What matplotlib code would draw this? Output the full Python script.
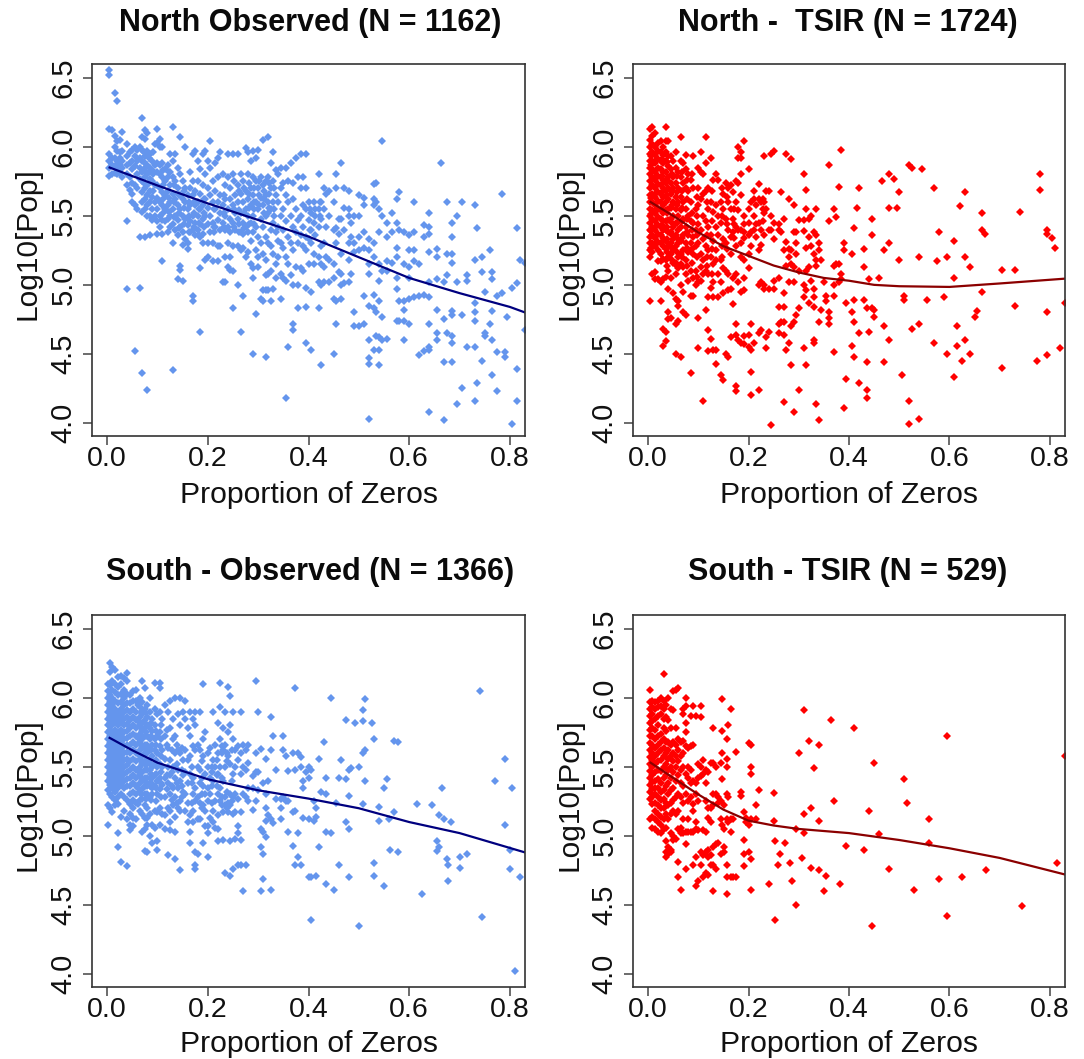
import matplotlib
matplotlib.use("Agg")
import matplotlib.pyplot as plt

# points are stored as columns: (proportion of zeros, [log10 pop values])
north_obs_cols = [
    (.003, [6.56,6.52,6.13,5.95,5.9,5.85,5.79]), (.01, [6.12,5.92,5.87,5.8]), (.015, [6.39,6.08,6.0,5.92,5.86,5.81]),
    (.02, [6.33,6.04,5.97,5.9,5.84,5.8]), (.025, [6.05,5.96,5.92,5.87,5.81]), (.03, [6.11,5.97,5.9,5.85,5.78]),
    (.04, [6.02,5.93,5.87,5.8,5.72,5.46,4.97]), (.045, [5.96,5.88,5.78,5.69]), (.05, [5.98,5.9,5.84,5.74,5.66,5.6]),
    (.055, [6.0,5.93,5.86,5.72,5.58,4.52]), (.06, [5.98,5.9,5.8,5.7,5.55]), (.065, [6.0,5.92,5.85,5.77,5.35,4.98]),
    (.07, [6.21,6.07,5.98,5.9,5.82,5.75,5.67,5.6,5.53,4.36]), (.075, [6.12,6.06,5.93,5.85,5.78,5.7,5.62,5.55,5.35]),
    (.08, [6.1,5.97,5.87,5.8,5.72,5.65,5.58,5.5,4.24]), (.085, [5.95,5.85,5.77,5.68,5.6,5.5,5.36]),
    (.09, [5.9,5.83,5.75,5.64,5.55,5.47]), (.095, [6.02,5.87,5.72,5.6,5.5]),
    (.10, [6.13,6.03,5.88,5.82,5.72,5.63,5.55,5.46,5.37]), (.105, [6.06,6.0,5.87,5.8,5.7,5.6,5.5,5.42]),
    (.11, [6.0,5.88,5.78,5.67,5.58,5.47,5.37,5.17]), (.115, [5.84,5.75,5.65,5.55,5.46]), (.12, [5.87,5.78,5.68,5.58,5.48,5.38]),
    (.125, [5.95,5.82,5.72,5.6,5.5,5.42]), (.13, [6.14,5.9,5.78,5.66,5.55,5.44,5.3,4.38]), (.135, [5.95,5.75,5.62,5.5,5.4]),
    (.14, [5.85,5.7,5.58,5.47,5.36,5.04]), (.145, [6.07,5.8,5.65,5.55,5.42,5.14,5.11]), (.15, [5.75,5.62,5.5,5.38,5.29,5.03]),
    (.155, [6.0,5.7,5.6,5.48,5.33]), (.16, [5.65,5.55,5.43,5.3,5.26]), (.165, [5.82,5.7,5.58,5.46,5.38]),
    (.17, [5.95,5.75,5.65,5.5,5.4,4.92,4.88]), (.175, [5.97,5.68,5.58,5.45,5.36]), (.18, [5.9,5.75,5.6,5.5,5.4]),
    (.185, [5.84,5.66,5.55,5.44,5.35,5.12,4.66]), (.19, [5.95,5.72,5.58,5.48,5.37,5.3]), (.195, [5.97,5.8,5.62,5.5,5.18]),
    (.20, [5.9,5.7,5.56,5.44,5.3,5.2]), (.205, [6.04,5.85,5.65,5.5,5.38]), (.21, [5.75,5.6,5.45,5.3,5.17]),
    (.215, [5.88,5.68,5.55,5.42]), (.22, [5.92,5.78,5.6,5.47,5.28,5.17]), (.225, [5.96,5.65,5.52,5.4,5.28]),
    (.23, [5.8,5.58,5.45,5.02]), (.235, [5.72,5.62,5.5,5.4,5.2,5.02]), (.24, [5.95,5.78,5.55,5.42,5.3,5.13]),
    (.245, [5.7,5.62,5.48,5.38,5.2,5.11]), (.25, [5.95,5.8,5.58,5.45,5.28,5.1,4.83]), (.255, [5.65,5.52,5.4]),
    (.26, [5.95,5.72,5.6,5.48,5.28,5.0]), (.265, [5.8,5.66,5.52,5.38,5.25,4.66]), (.27, [5.75,5.6,5.45,5.37,5.27,4.92]),
    (.275, [5.99,5.68,5.55,5.42,5.2]), (.28, [5.96,5.8,5.62,5.5,5.38,5.24]), (.285, [5.9,5.7,5.58,5.45,5.32,5.15]),
    (.29, [5.97,5.78,5.65,5.5,5.38,5.12,5.05,4.5]), (.295, [5.92,5.75,5.6,5.42,5.25,4.79]), (.30, [5.98,5.7,5.55,5.35,5.2,5.13]),
    (.305, [5.78,5.63,5.48,5.3,4.9]), (.31, [6.05,5.72,5.58,5.42,5.22,4.96,4.88]), (.315, [5.75,5.65,5.5,5.35,5.18,5.07,4.96,4.48]),
    (.32, [6.07,5.78,5.6,5.52,5.3,5.08,4.96]), (.325, [5.88,5.7,5.55,5.4,5.28,5.1,4.88]), (.33, [5.96,5.75,5.6,5.45,5.22,4.97]),
    (.335, [5.83,5.65,5.38,5.15,5.05]), (.34, [5.8,5.6,5.42,5.32,5.2]), (.345, [5.85,5.7,5.5,5.3,5.08,4.9]),
    (.35, [5.74,5.55,5.4,5.27,5.05]), (.355, [5.85,5.65,5.46,5.2,5.03,4.18]), (.36, [5.75,5.6,5.35,5.15,4.55]),
    (.365, [5.88,5.5,5.3,5.07]), (.37, [5.74,5.62,5.42,5.25,5.0,4.72,4.67]), (.375, [5.92,5.55,5.38,5.13]),
    (.38, [5.78,5.47,5.3,5.0,4.83]), (.385, [5.95,5.7,5.5,5.36,5.12]), (.39, [5.78,5.58,5.42,5.28,5.1]),
    (.395, [5.95,5.7,5.55,5.35,5.25,4.98,4.84,4.58]), (.40, [5.6,5.47,5.33,5.15]), (.405, [5.52,5.4,5.3,4.95,4.53]),
    (.41, [5.6,5.45,5.22,5.15]), (.42, [5.8,5.55,5.42,5.2,5.02,4.83]), (.425, [5.6,5.48,5.28,5.15,5.0,4.42]),
    (.43, [5.7,5.55,5.3,5.13,5.02]), (.435, [5.66,5.42,5.2]), (.44, [5.68,5.5,5.18,5.02]), (.45, [5.6,5.4,5.15,5.05,4.9,4.5]),
    (.455, [5.8,5.7,5.41,5.3,4.88,4.72]), (.46, [5.48,5.37,5.09]), (.465, [5.88,5.48,5.22,5.08,5.0,4.9]), (.47, [5.7,5.56,5.4,5.01]),
    (.48, [5.68,5.55,5.5,5.3,5.18,5.02]), (.485, [5.45,5.35,5.08]), (.49, [5.5,5.3,5.24,4.8,4.7]), (.50, [5.65,5.5,5.35,5.25,4.7]),
    (.51, [5.63,5.58,5.38,5.27,4.92,4.72]), (.52, [5.33,5.25,5.15,5.08,4.85,4.6,4.47,4.43,4.03]),
    (.53, [5.73,5.62,5.58,5.3,5.2,4.93,4.83,4.53]), (.535, [5.74,5.6,4.8,4.63]), (.54, [5.55,5.38,5.15,5.03,4.88,4.62,4.53,4.42]),
    (.545, [6.04,5.5,5.1,4.77,4.6]), (.555, [5.45,5.35,5.17,5.1,4.61]), (.565, [5.52,5.38,5.16]),
    (.575, [5.62,5.45,5.27,5.2,5.05,4.97,4.74]), (.58, [5.67,5.4,4.88,4.74]), (.59, [5.38,5.15,4.88,4.82,4.74,4.6]),
    (.60, [5.36,5.25,5.13,5.05,4.9,4.72]), (.61, [5.6,5.38,5.25,5.17,4.91]), (.62, [5.15,4.92,4.49]), (.63, [5.43,5.35,4.93,4.52]),
    (.64, [5.52,5.42,5.37,5.24,5.02,4.91,4.72,4.55,4.53,4.08]), (.655, [5.26,5.2,5.04,4.82,4.65,4.6]), (.664, [5.88]),
    (.67, [5.02,4.75,4.44,4.02]), (.675, [5.6,5.22,5.07,4.65]), (.685, [5.45,5.35,5.22,5.16,4.81,4.78,4.63,4.58,4.44]),
    (.695, [5.5,5.02,4.14]), (.705, [5.6,4.78,4.25]), (.715, [5.07,5.03,4.55]), (.73, [5.58,5.18,4.87,4.8,4.74,4.55,4.16]),
    (.735, [5.41,4.29]), (.745, [5.2,5.09,4.45]), (.75, [4.95,4.63,4.65]), (.76, [5.25,4.72]), (.765, [5.09,5.04,4.81,4.6,4.35]),
    (.775, [4.92,4.51,4.23]), (.785, [5.66,4.94]), (.79, [4.51,4.48]), (.795, [4.77]), (.805, [4.98,3.99]),
    (.815, [5.41,5.01,4.39,4.16]), (.82, [5.18]), (.83, [5.16,4.67]),
    # tighter parts of the cloud
    (.073, [5.96,5.89,5.83,5.74]), (.083, [5.92,5.82,5.74]), (.092, [5.96,5.8,5.68]), (.112, [5.83,5.72,5.62,5.52]), (.122, [5.82,5.63,5.53]),
    (.132, [5.72,5.6,5.49]), (.142, [5.65,5.52,5.41]), (.152, [5.68,5.56,5.44]), (.162, [5.6,5.5,5.38]), (.172, [5.6,5.52,5.42]),
    (.182, [5.55,5.45,5.36]), (.192, [5.62,5.52,5.42]), (.212, [5.55,5.42,5.38]), (.232, [5.65,5.52,5.42]), (.252, [5.75,5.55,5.42]),
    (.262, [5.68,5.54,5.44,5.38]), (.272, [5.7,5.52,5.41]), (.282, [5.74,5.66,5.56,5.44]), (.292, [5.7,5.6,5.55,5.44]), (.302, [5.75,5.65,5.58]),
    (.312, [5.68,5.62,5.52]), (.322, [5.74,5.66,5.56]), (.332, [5.7,5.55,5.5]), (.402, [5.55,5.4]), (.412, [5.55,5.5,5.36]), (.422, [5.6,5.5]),
]
north_obs_line_x = [.005,.1,.2,.3,.4,.5,.6,.7,.8,.83]
north_obs_line_y = [5.85,5.72,5.59,5.47,5.35,5.2,5.05,4.94,4.84,4.80]

north_tsir_cols = [
    (.003, [6.13,6.05,6.0,5.95,5.9,5.85,5.8,5.75,5.7,5.65,5.6,5.55,5.5,5.45,5.4,5.35,5.3,5.25,5.2,4.885]),
    (.008, [6.14,6.08,6.02,5.96,5.9,5.84,5.78,5.72,5.66,5.6,5.54,5.48,5.42,5.36,5.3,5.24,5.08]),
    (.014, [6.1,6.0,5.94,5.88,5.82,5.76,5.7,5.64,5.58,5.52,5.46,5.4,5.34,5.28,5.09,5.04]),
    (.02, [6.03,5.97,5.91,5.85,5.79,5.73,5.67,5.61,5.55,5.49,5.43,5.37,5.31,5.25,5.17,5.04]),
    (.025, [6.04,5.96,5.9,5.84,5.78,5.72,5.66,5.6,5.54,5.48,5.42,5.36,5.3,5.22,5.17,5.02,4.88]),
    (.03, [6.0,5.94,5.88,5.82,5.76,5.7,5.64,5.58,5.52,5.46,5.4,5.34,5.28,5.19,5.04,4.68,4.56]),
    (.035, [6.14,6.04,5.96,5.9,5.82,5.74,5.68,5.6,5.54,5.46,5.4,5.32,5.26,5.18,5.06,4.66,4.59]),
    (.04, [6.04,5.93,5.86,5.78,5.7,5.62,5.55,5.47,5.38,5.28,5.2,5.1,4.97,4.8,4.75]),
    (.045, [5.93,5.84,5.74,5.66,5.56,5.48,5.38,5.3,5.22,5.05,4.76]), (.05, [5.9,5.78,5.7,5.6,5.5,5.42,5.33,5.25,5.16,4.94]),
    (.055, [5.96,5.85,5.74,5.64,5.55,5.45,5.36,5.28,5.16,5.08,4.9,4.72,4.5]), (.06, [5.82,5.7,5.6,5.5,5.4,5.3,5.2,5.12,4.88,4.85,4.74]),
    (.065, [6.07,5.9,5.78,5.64,5.54,5.42,5.32,5.22,5.15,5.0,4.48]), (.07, [5.88,5.74,5.6,5.48,5.36,5.25,5.13,4.95,4.8]),
    (.075, [5.94,5.84,5.7,5.55,5.42,5.3,5.18,5.08,4.78]), (.08, [5.8,5.68,5.5,5.36,5.24,5.03]),
    (.085, [5.76,5.6,5.46,5.3,5.1,4.92,4.36]), (.09, [5.93,5.7,5.45,5.35,5.22,5.05,4.92]), (.095, [5.55,5.4,5.28,5.1,5.0]),
    (.10, [5.85,5.7,5.58,5.44,5.3,5.02,4.76,4.54]), (.105, [5.96,5.82,5.62,5.4,5.22,5.13,5.03]), (.11, [5.8,5.66,5.5,5.33,5.18,5.08,4.16]),
    (.115, [6.07,5.88,5.68,5.46,5.28,5.1,4.82]), (.12, [5.7,5.55,5.42,5.25,5.08,4.91,4.67,4.52]), (.125, [5.92,5.6,5.36,5.2,4.98,4.61]),
    (.13, [5.76,5.53,5.32,5.15,5.02,4.91,4.53]), (.135, [5.8,5.58,5.42,5.25,5.18,4.53,4.43]), (.14, [5.76,5.5,5.36,5.08,4.91]),
    (.145, [5.6,5.45,5.18,5.02,4.35]), (.15, [5.66,5.55,5.33,5.12,4.94,4.31]), (.155, [5.74,5.48,5.3,5.1,4.5]),
    (.16, [5.7,5.6,5.4,5.08,4.96,4.48]), (.165, [5.72,5.55,5.35,5.22,4.97,4.62]), (.17, [5.67,5.48,5.38,5.05,4.86]),
    (.175, [5.75,5.6,5.42,5.28,5.08,4.72,4.64,4.27,4.23]), (.18, [6.0,5.92,5.74,5.54,5.4,5.02,4.6]),
    (.185, [5.96,5.92,5.8,5.65,5.4,5.3,5.2,4.95,4.58]), (.19, [6.04,5.5,5.38,5.18,5.05,4.96,4.63,4.57]),
    (.20, [5.84,5.55,5.45,5.36,5.22,5.12,4.64,4.55]), (.205, [5.6,5.38,5.28,4.72,4.53,4.37,4.2]), (.21, [5.68,5.62,5.5,5.4,4.58]),
    (.22, [5.73,5.62,5.45,5.25,5.0,4.65,4.24]), (.225, [5.6,5.4,5.29,5.02,4.67]), (.23, [5.93,5.6,5.52,5.36,5.0,4.97]),
    (.235, [5.68,5.55,4.62,4.54]), (.24, [5.68,5.4,4.97,4.66]), (.245, [5.95,5.5,5.4,3.985]), (.25, [5.97,5.45,5.33,5.03,4.97]),
    (.26, [5.44,5.4,5.05,4.84,4.72,4.65]), (.265, [5.67,5.38,4.73]), (.27, [5.48,5.25,4.94,4.84,4.73,4.64,4.15]),
    (.275, [5.95,5.31,5.14,4.53]), (.28, [5.62,5.26,5.2,5.02,4.58]), (.285, [5.91,5.25,5.15,4.7,4.42]),
    (.29, [5.58,5.38,5.13,5.02,4.73,4.08]), (.295, [5.38,5.3,5.22,4.78]), (.30, [5.47,5.1,4.83,4.24]),
    (.31, [5.8,5.47,5.39,5.0,4.91,4.54]), (.315, [5.69,5.55,5.27,5.1,4.96,4.42]), (.32, [5.48,5.35,5.13,4.87]),
    (.325, [5.5,5.28,5.03]), (.33, [5.38,5.22,4.97,4.91,4.84,4.6,4.58]), (.335, [5.55,5.36,5.18,5.14,4.14]),
    (.34, [5.3,5.25,4.73,4.02]), (.345, [5.18,4.82]), (.35, [5.02]), (.355, [4.92,4.88]), (.36, [5.87,5.46,4.8,4.76,4.72]),
    (.37, [5.55,5.14,5.0,4.92,4.51]), (.375, [5.49,5.15]), (.38, [5.71,5.15,5.02]), (.385, [5.98,5.08,5.04]),
    (.39, [5.3,5.25,4.11]), (.395, [4.87,4.32]), (.405, [5.22,4.8,4.56]), (.41, [5.41,4.89,4.73,4.48]), (.415, [5.56]),
    (.42, [5.7,4.65,4.29]), (.43, [5.26,5.13,4.89]), (.435, [4.83,4.44,4.24,4.18]), (.44, [5.04,4.66]), (.445, [5.48,5.36,4.83]),
    (.45, [4.82,4.77]), (.46, [5.05]), (.465, [5.75]), (.47, [5.25,4.7,4.44]), (.48, [5.8,5.56,5.3,4.6]), (.49, [5.77]),
    (.495, [5.56]), (.50, [5.67,5.18]), (.505, [4.345]), (.51, [4.92,4.89]), (.52, [5.87,4.155,3.995]), (.525, [5.85,4.68]),
    (.54, [5.2,4.72,4.03]), (.545, [5.84]), (.555, [4.89]), (.57, [5.7,4.58]), (.575, [5.17]), (.58, [5.38]),
    (.59, [4.91]), (.595, [5.2,4.5]), (.61, [5.32,5.05,4.33]), (.615, [4.7,4.56]), (.62, [5.57]), (.625, [4.45]),
    (.63, [5.67,5.2,4.6]), (.64, [5.13,4.5]), (.65, [4.77]), (.655, [4.81]), (.665, [5.52,5.4,4.95]), (.67, [5.37]),
    (.705, [5.11,4.4]), (.73, [5.11,4.85]), (.74, [5.53]), (.775, [4.45]), (.78, [5.8,5.69]), (.795, [5.4,5.37,4.8,4.49]),
    (.805, [5.34]), (.81, [5.27]), (.82, [4.54]), (.83, [4.87]),
    # tighter parts of the cloud
    (.006, [5.93,5.87,5.75,5.63,5.51,5.39,5.27]), (.017, [5.91,5.79,5.67,5.55,5.43,5.31]), (.028, [5.91,5.79,5.67,5.55,5.43,5.31]),
    (.038, [5.89,5.76,5.65,5.52,5.42,5.33,5.24,5.14]), (.048, [5.8,5.68,5.58,5.45,5.36,5.27,5.18]), (.058, [5.79,5.67,5.58,5.45,5.34,5.24,5.14]),
    (.068, [5.82,5.68,5.56,5.46,5.34,5.2]), (.078, [5.76,5.62,5.48,5.38,5.27,5.14]), (.088, [5.8,5.52,5.4,5.26,5.16]), (.098, [5.64,5.5,5.36,5.2,5.06]),
    (.118, [5.6,5.36,5.2,5.14]), (.128, [5.68,5.46,5.26,5.08]), (.148, [5.7,5.5,5.28,5.2]), (.158, [5.64,5.44,5.26]), (.172, [5.55,5.44,5.34]),
    (.19, [5.44,5.34]), (.215, [5.58,5.44,5.35]), (.228, [5.62,5.55,5.46]),
]
north_tsir_line_x = [.005,.05,.1,.15,.2,.25,.3,.35,.4,.45,.5,.6,.7,.83]
north_tsir_line_y = [5.6,5.5,5.38,5.28,5.21,5.14,5.09,5.05,5.03,5.0,4.99,4.985,5.01,5.045]

south_obs_cols = [
    (.002, [6.1,6.05,6.0,5.95,5.9,5.85,5.8,5.75,5.7,5.65,5.6,5.55,5.5,5.45,5.4,5.33,5.22,5.08]),
    (.005, [6.25,6.19,6.09,6.02,5.97,5.92,5.87,5.82,5.77,5.72,5.67,5.62,5.57,5.52,5.47,5.42,5.37,5.3,5.2]),
    (.01, [6.22,6.12,6.06,6.0,5.95,5.9,5.85,5.8,5.75,5.7,5.65,5.6,5.55,5.5,5.45,5.4,5.35,5.28,5.17]),
    (.016, [6.2,6.1,6.04,5.98,5.92,5.87,5.82,5.77,5.72,5.67,5.62,5.57,5.52,5.47,5.42,5.37,5.32,5.26,5.22]),
    (.022, [6.15,6.08,6.02,5.96,5.9,5.85,5.8,5.75,5.7,5.65,5.6,5.55,5.5,5.45,5.4,5.35,5.28,5.23,5.02,4.92]),
    (.028, [6.16,6.1,6.03,5.97,5.92,5.87,5.82,5.77,5.72,5.67,5.62,5.57,5.52,5.47,5.42,5.37,5.3,5.14,4.81]),
    (.034, [6.14,6.06,6.0,5.95,5.9,5.85,5.8,5.75,5.7,5.65,5.6,5.55,5.5,5.45,5.4,5.35,5.28,5.18]),
    (.04, [6.18,6.12,6.03,5.96,5.91,5.86,5.81,5.76,5.71,5.66,5.61,5.56,5.51,5.46,5.41,5.36,5.26,5.12,4.78]),
    (.046, [6.02,5.96,5.9,5.84,5.78,5.72,5.66,5.6,5.54,5.48,5.42,5.36,5.3,5.23,5.16,5.08,5.04]),
    (.052, [6.05,5.98,5.92,5.86,5.8,5.74,5.68,5.62,5.56,5.5,5.44,5.38,5.32,5.26,5.2,5.13,5.07]),
    (.058, [6.06,5.98,5.9,5.84,5.78,5.72,5.66,5.6,5.54,5.48,5.42,5.36,5.3,5.24,5.12]),
    (.065, [6.0,5.93,5.86,5.8,5.74,5.68,5.62,5.56,5.5,5.44,5.38,5.32,5.26,5.18]),
    (.07, [6.12,5.97,5.88,5.82,5.76,5.7,5.64,5.58,5.52,5.46,5.4,5.34,5.27,5.16,5.03]),
    (.075, [6.07,5.92,5.84,5.78,5.72,5.66,5.6,5.54,5.48,5.42,5.36,5.3,5.22,5.13,5.05,4.89]),
    (.08, [5.95,5.86,5.8,5.72,5.66,5.6,5.54,5.48,5.42,5.36,5.3,5.2,5.13,5.08,4.88]),
    (.085, [6.0,5.9,5.78,5.7,5.64,5.56,5.48,5.42,5.36,5.28,5.16,5.0]), (.09, [5.85,5.76,5.66,5.58,5.5,5.42,5.35,5.3,5.08,4.95]),
    (.095, [6.11,5.92,5.8,5.7,5.62,5.52,5.44,5.36,5.18,5.06]), (.10, [5.88,5.72,5.6,5.5,5.4,5.3,5.17,4.96,4.9]),
    (.105, [6.11,6.07,5.9,5.75,5.65,5.52,5.42,5.34,5.2,5.08]), (.11, [5.85,5.62,5.5,5.37,5.16]), (.115, [5.95,5.72,5.56,5.42,5.28,5.15,5.05]),
    (.12, [5.9,5.64,5.5,5.38,5.2,4.86]), (.125, [5.98,5.78,5.55,5.44,5.3,5.18,5.1,5.04]), (.13, [5.85,5.7,5.5,5.35,5.22]),
    (.135, [6.0,5.72,5.6,5.42,5.28,5.14,5.03,4.83]), (.14, [5.88,5.62,5.48,5.35,5.2]), (.145, [6.0,5.8,5.6,5.4,5.25,5.18,4.75]),
    (.15, [5.9,5.55,5.44,5.32]), (.155, [5.98,5.85,5.62,5.46,5.3,5.18]), (.16, [5.78,5.55,5.38,5.24,5.1]), (.165, [5.9,5.72,5.58,5.45,5.15,5.03,4.95]),
    (.17, [5.85,5.65,5.42,5.3,5.18,5.1]), (.175, [5.9,5.8,5.62,5.35,5.25,4.88,4.79,4.76]), (.18, [5.66,5.5,5.28,5.12,4.87]),
    (.185, [5.9,5.62,5.48,5.38,5.24,5.12]), (.19, [6.1,5.7,5.58,5.36,5.22,4.95]), (.195, [5.75,5.45,5.3,5.18,5.07]),
    (.20, [5.6,5.5,5.35,5.25,5.07,5.02,4.85]), (.205, [5.64,5.42,5.3,5.13]), (.21, [5.9,5.55,5.4,5.18,5.1]), (.215, [5.66,5.5,5.25,5.06]),
    (.22, [5.82,5.6,5.45,5.3,5.15,5.05,4.96]), (.225, [6.11,5.93,5.7,5.5,5.35,5.25]), (.23, [5.78,5.62,5.4,5.17,4.97]),
    (.235, [5.9,5.66,5.5,5.28,5.22,4.73]), (.24, [6.08,5.75,5.58,5.24,5.17]), (.245, [6.01,5.8,5.52,5.3,5.22,4.96,4.71]),
    (.25, [5.9,5.7,5.45,5.28,5.16,4.76]), (.255, [5.62,5.5,5.3,5.17,4.98]), (.26, [5.65,5.55,5.27,5.07,5.02,4.79]),
    (.265, [5.9,5.6,5.45,5.17,4.97,4.79]), (.27, [5.66,5.5,5.3,4.6]), (.275, [5.62,5.48,5.28,4.79]), (.28, [5.66,5.53,5.35,5.25]),
    (.29, [5.43,5.35,5.19]), (.295, [6.12,5.6,5.46,5.25]), (.30, [5.9,5.46,5.33]), (.305, [5.63,5.05,4.92,4.6]), (.31, [5.38,5.03,4.87,4.69]),
    (.315, [5.56,5.2,5.3,5.11,4.99]), (.32, [5.4,5.15]), (.325, [5.86,5.62,5.12,4.61]), (.33, [5.72,5.09]), (.335, [5.48,5.27]),
    (.345, [5.27,5.2,5.12]), (.35, [5.72,5.62,5.28]), (.355, [5.58,5.25]), (.36, [5.47,5.25,5.03]), (.37, [5.6,5.17,4.93]),
    (.373, [6.07,5.48,5.18,4.79]), (.38, [5.6,5.02,4.85]), (.385, [5.57,5.5,4.79]), (.39, [5.4,5.35,5.13]), (.395, [5.46]),
    (.40, [5.5,5.42,5.12,4.7]), (.405, [5.48,4.7,4.39]), (.41, [5.25,5.11]), (.415, [5.2,5.14,4.71]), (.42, [5.56,4.92]),
    (.425, [5.32]), (.43, [5.68]), (.435, [5.42,5.3,5.03,4.65]), (.445, [6.0,5.02]), (.45, [4.61]), (.455, [5.24]), (.46, [5.42,4.79]),
    (.465, [5.55]), (.475, [5.84,5.41,5.1]), (.48, [5.48,5.29,5.05,4.7]), (.485, [5.49]), (.492, [5.82]), (.50, [5.5,4.35]),
    (.508, [5.91,5.83,5.6,5.23]), (.512, [5.99,5.62,5.4]), (.527, [5.82]), (.53, [5.7,4.8,4.71]), (.54, [5.21,5.11]), (.55, [5.35,4.64]),
    (.555, [5.41]), (.56, [5.12]), (.562, [4.9]), (.57, [5.69,5.17]), (.577, [5.68,4.88]), (.615, [5.23]), (.625, [4.58]), (.645, [5.22]),
    (.655, [4.96,4.89]), (.66, [5.15,4.92]), (.665, [5.35]), (.67, [5.12]), (.675, [4.83]), (.678, [4.79,4.67]), (.683, [5.1]),
    (.70, [4.85,4.77]), (.715, [4.87]), (.74, [6.05]), (.745, [4.41]), (.77, [5.4]), (.79, [5.56,5.08]), (.80, [4.9,4.76]),
    (.805, [5.35]), (.81, [4.02]), (.82, [4.7]),
    # tighter parts of the cloud
    (.062, [5.95,5.83,5.71,5.59,5.47,5.35,5.23]), (.068, [5.9,5.78,5.66,5.54,5.42,5.3]), (.078, [5.89,5.75,5.63,5.51,5.39,5.27]),
    (.088, [5.82,5.72,5.62,5.52,5.45,5.38,5.26]), (.098, [5.76,5.66,5.55,5.45,5.35,5.25]), (.108, [5.8,5.7,5.58,5.46,5.38,5.28]),
    (.118, [5.77,5.66,5.44,5.34]), (.128, [5.62,5.46,5.36,5.26]), (.138, [5.66,5.52,5.38,5.24]), (.148, [5.64,5.48,5.36,5.28]),
    (.168, [5.5,5.38,5.24]), (.188, [5.54,5.42,5.3,5.2]), (.208, [5.5,5.46,5.36,5.24]), (.218, [5.55,5.44,5.36]), (.228, [5.65,5.6,5.42,5.28,5.22]),
    (.238, [5.6,5.54,5.32,5.2]), (.248, [5.62,5.4,5.25]),
]
south_obs_line_x = [.005,.05,.1,.15,.2,.3,.4,.5,.6,.7,.83]
south_obs_line_y = [5.71,5.62,5.53,5.47,5.41,5.33,5.27,5.2,5.1,5.02,4.88]

south_tsir_cols = [
    (.003, [6.06,5.97,5.92,5.87,5.82,5.77,5.72,5.67,5.62,5.57,5.52,5.47,5.42,5.37,5.32,5.27,5.12]),
    (.008, [5.98,5.93,5.88,5.83,5.78,5.72,5.66,5.6,5.55,5.5,5.44,5.39,5.34,5.28,5.23,5.14,5.06]),
    (.014, [5.97,5.92,5.85,5.77,5.7,5.64,5.58,5.52,5.46,5.4,5.35,5.3,5.24,5.18,5.12,5.05]),
    (.02, [5.98,5.93,5.87,5.8,5.72,5.66,5.6,5.54,5.48,5.41,5.35,5.28,5.22,5.16,5.1,5.03]),
    (.026, [6.0,5.94,5.88,5.74,5.68,5.62,5.55,5.47,5.38,5.32,5.26,5.2,5.14,5.08,5.02]),
    (.032, [6.17,5.98,5.92,5.85,5.78,5.7,5.64,5.58,5.5,5.42,5.33,5.27,5.2,5.12,5.05]),
    (.036, [5.95,5.86,5.76,5.68,5.6,5.52,5.44,5.36,5.24,5.16,5.06,4.96,4.88,4.85]),
    (.04, [6.0,5.84,5.68,5.62,5.56,5.48,5.38,5.3,5.22,5.12,4.92,4.87]), (.045, [5.92,5.78,5.66,5.58,5.5,5.42,5.33,5.24,5.16,5.02,4.9,4.88]),
    (.05, [6.05,5.91,5.68,5.6,5.54,5.46,5.35,5.26,5.18,5.0,4.97]), (.055, [6.06,5.78,5.66,5.58,5.5,5.4,5.28,5.16,4.98]),
    (.06, [6.07,5.7,5.62,5.54,5.44,5.3,5.18,5.05,4.81,4.7]), (.065, [5.68,5.58,5.48,5.38,5.28,5.06,5.02,4.61]),
    (.07, [5.92,5.88,5.69,5.6,5.5,5.36,5.24,5.12,5.02]), (.075, [6.0,5.94,5.82,5.75,5.65,5.45,5.3,5.03,4.94,4.76]),
    (.08, [5.64,5.5,5.42,5.25,5.12,5.03]), (.085, [5.87,5.65,5.48,5.38,5.28,5.03]), (.09, [5.94,5.66,5.4,5.23,5.18,5.03,4.79]),
    (.095, [5.87,5.38,5.3,5.1,5.05,4.85,4.64]), (.10, [5.52,5.42,5.25,5.04,4.67]), (.105, [5.94,5.86,5.5,5.43,4.88,4.79]),
    (.11, [5.55,5.45,5.04,4.86,4.7]), (.115, [5.48,5.38,5.25,5.03,4.88,4.73]), (.12, [5.46,5.2,5.13,4.9,4.85,4.72]),
    (.125, [5.53,5.2,5.1,4.86,4.79]), (.13, [5.78,5.53,5.3,5.22,4.92,4.79,4.6]), (.135, [5.5,5.3,4.94,4.76]), (.14, [5.28,5.24,4.95]),
    (.145, [5.53,5.25,5.12,4.87]), (.148, [5.99,5.76,5.6,5.41,5.08]), (.152, [5.22,5.05,4.88,4.92]), (.157, [5.7,5.56,5.5,5.3,5.12,4.79,4.7,4.58]),
    (.16, [5.8,5.28,5.1]), (.165, [5.92,5.12,5.03,4.7]), (.17, [5.12,4.7]), (.175, [5.61,4.7]), (.185, [5.32,5.29]), (.19, [5.17,4.97,4.87,4.78]),
    (.195, [5.1,5.13]), (.2, [5.67,5.08,4.88]), (.205, [5.66,5.5,5.45,5.12,4.83,4.61]), (.215, [5.22,5.12]), (.22, [5.33]), (.24, [4.65]),
    (.25, [5.31,5.11]), (.253, [4.96,4.39]), (.258, [4.79]), (.262, [4.87]), (.273, [4.95]), (.282, [4.8]), (.287, [4.67]), (.295, [5.05,4.5]),
    (.30, [5.6]), (.306, [4.84]), (.31, [5.91,5.16,5.02]), (.32, [5.69]), (.325, [5.2,4.77]), (.33, [5.49]), (.34, [5.66,5.11,4.75]),
    (.35, [4.6]), (.355, [4.71]), (.365, [5.84]), (.37, [5.25]), (.383, [4.65]), (.395, [4.93]), (.41, [5.78]), (.43, [4.9]), (.44, [5.18]),
    (.445, [4.35]), (.45, [5.53]), (.46, [5.01]), (.48, [4.76]), (.51, [5.41]), (.515, [5.24]), (.53, [4.61]), (.56, [5.12,4.95]),
    (.58, [4.69]), (.595, [5.72,4.42]), (.625, [4.7]), (.672, [4.75]), (.745, [4.49]), (.815, [4.8]), (.83, [5.58]),
]
south_tsir_line_x = [.005,.05,.1,.15,.2,.25,.3,.4,.5,.6,.7,.83]
south_tsir_line_y = [5.53,5.42,5.3,5.19,5.11,5.075,5.05,5.02,4.97,4.91,4.84,4.72]

titles = ["North Observed (N = 1162)", "North -  TSIR (N = 1724)", "South - Observed (N = 1366)", "South - TSIR (N = 529)"]
xticks = [0.0, 0.2, 0.4, 0.6, 0.8]
yticks = [4.0, 4.5, 5.0, 5.5, 6.0, 6.5]

W, H = 1084, 1059
BLUE = "#6495ED"
NAVY = "#00007F"
RED = "#FF0000"
DARKRED = "#8B0000"

plt.rcParams["font.family"] = ["Liberation Sans", "DejaVu Sans"]
fig = plt.figure(figsize=(W / 100, H / 100), dpi=100)

# left, top, right, bottom in pixels, title centre x, title y, x label y
panels = [
    (north_obs_cols, north_obs_line_x, north_obs_line_y, BLUE, NAVY, (92, 64, 525, 436), 310, 23, 495),
    (north_tsir_cols, north_tsir_line_x, north_tsir_line_y, RED, DARKRED, (633, 64, 1065, 436), 848, 23, 495),
    (south_obs_cols, south_obs_line_x, south_obs_line_y, BLUE, NAVY, (92, 615, 525, 987), 310, 572, 1044),
    (south_tsir_cols, south_tsir_line_x, south_tsir_line_y, RED, DARKRED, (633, 615, 1065, 987), 848, 572, 1044),
]

for i, (cols, lx, ly, col, lcol, box, tx, ty, xl_y) in enumerate(panels):
    l, t, r, b = box
    ax = fig.add_axes([l / W, 1 - b / H, (r - l) / W, (b - t) / H])
    xs = [c[0] for c in cols for _ in c[1]]
    ys = [v for c in cols for v in c[1]]
    ax.plot(xs, ys, ls="none", marker="D", ms=3.9, mew=0, color=col)
    ax.plot(lx, ly, color=lcol, lw=1.6)
    ax.set_xlim(-0.03, 0.83)
    ax.set_ylim(3.905, 6.6)
    ax.set_xticks(xticks)
    ax.set_xticklabels(["%.1f" % v for v in xticks])
    ax.set_yticks(yticks)
    ax.set_yticklabels(["%.1f" % v for v in yticks], rotation=90, va="center")
    ax.tick_params(length=6.5, width=1.1, color="#444444", labelcolor="#111111")
    ax.tick_params(axis="x", labelsize=20.5, pad=1)
    ax.tick_params(axis="y", labelsize=21, pad=4)
    for s in ax.spines.values():
        s.set_color("#333333")
        s.set_linewidth(1.2)
    fig.text(tx / W, 1 - ty / H, titles[i], ha="center", va="center", fontsize=22, fontweight="bold", color="#0a0a0a")
    fig.text((l + r) / 2 / W, 1 - xl_y / H, "Proportion of Zeros", ha="center", va="center", fontsize=21.7, color="#111111")
    fig.text((l - 64) / W, 1 - ((t + b) / 2 - 6) / H, "Log10[Pop]", rotation=90, ha="center", va="center", fontsize=21.5, color="#111111")

fig.savefig("out.png", dpi=100)
